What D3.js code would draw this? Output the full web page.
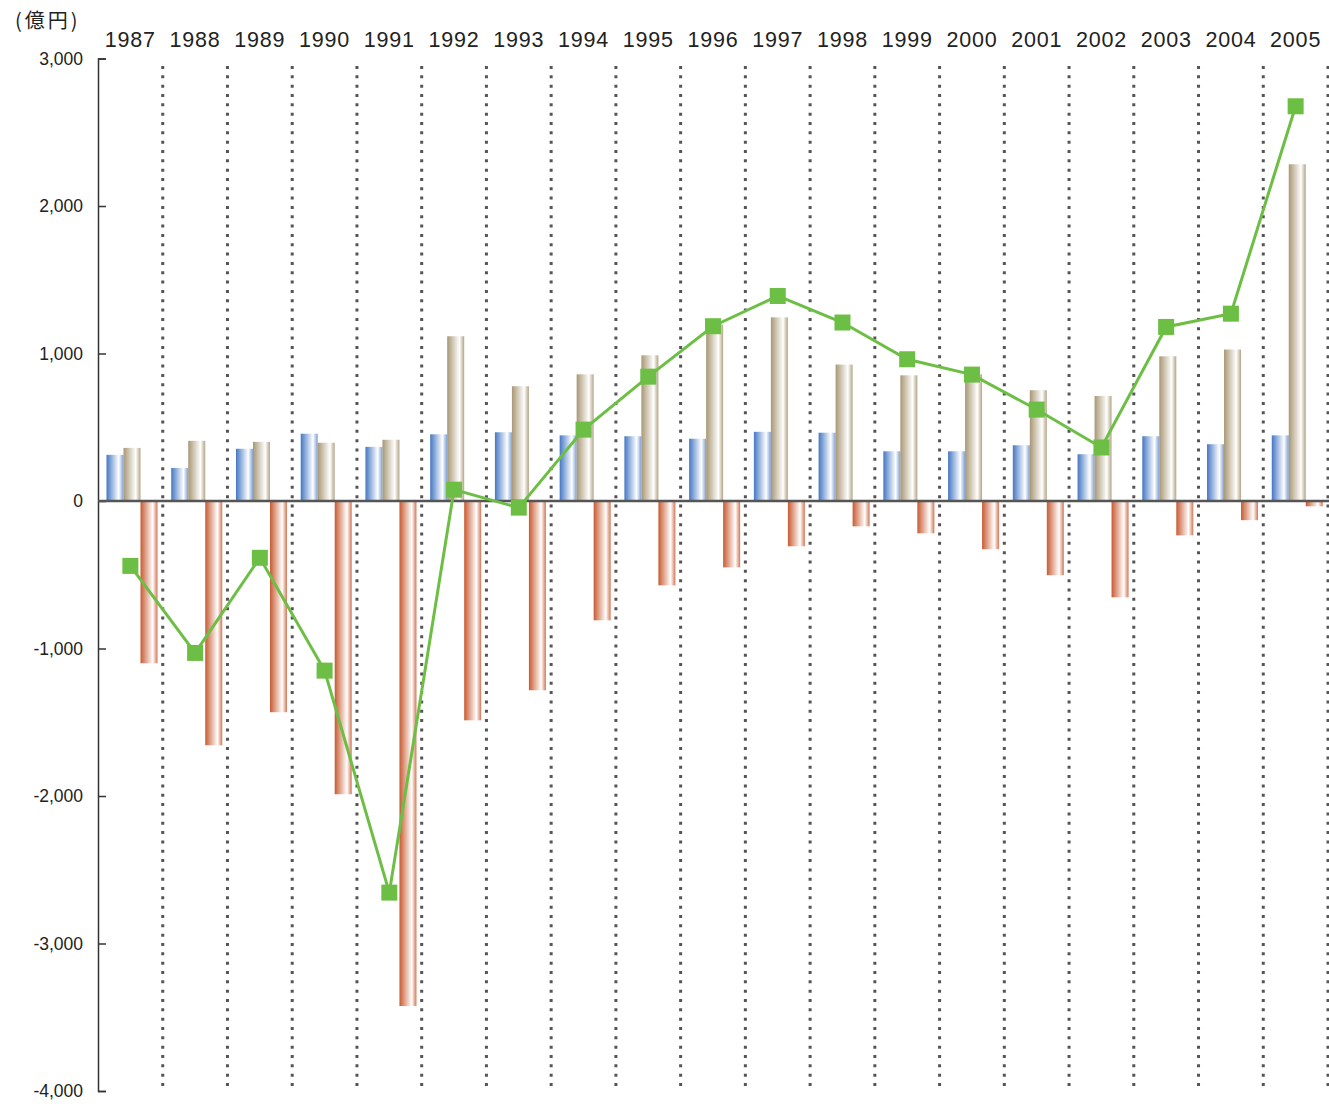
<!DOCTYPE html>
<html lang="ja">
<head>
  <meta charset="utf-8">
  <title>億円 1987-2005</title>
  <script src="https://d3js.org/d3.v7.min.js"></script>
  <style>
    body { margin: 0; background: #fff; }
    text { font-family: "Liberation Sans", Arial, Helvetica, sans-serif; fill: #222; }
  </style>
</head>
<body>
<svg></svg>
<script>
// data (億円)
const years = ['1987','1988','1989','1990','1991','1992','1993','1994','1995','1996',
               '1997','1998','1999','2000','2001','2002','2003','2004','2005']
const blueVals  = [313, 224, 354, 456, 367, 452, 466, 445, 439, 422, 469, 463, 337, 337, 378, 317, 439, 385, 445]
const beigeVals = [360, 408, 401, 395, 415, 1117, 778, 859, 988, 1197, 1245, 925, 852, 859, 751, 712, 981, 1027, 2283]
const orangeVals = [-1100, -1656, -1432, -1988, -3424, -1487, -1283, -809, -572, -450, -307, -172, -219, -327, -503, -653, -233, -130, -36]
const lineVals  = [-440, -1030, -385, -1150, -2655, 77, -45, 484, 843, 1185, 1390, 1210, 961, 857, 620, 363, 1180, 1270, 2676]
const yTicks = [3000, 2000, 1000, 0, -1000, -2000, -3000, -4000]

const W = 1329, H = 1104
const svg = d3.select('svg').attr('width', W).attr('height', H)

const x = d3.scaleBand().domain(years).range([98, 1328]).paddingInner(0).paddingOuter(0)
const y = d3.scaleLinear().domain([-4000, 3000]).range([1091, 58.5])

// gradients
const defs = svg.append('defs')
function grad(id, c0, c1) {
  const g = defs.append('linearGradient').attr('id', id)
    .attr('x1', '0%').attr('x2', '100%').attr('y1', '0%').attr('y2', '0%')
  g.append('stop').attr('offset', '0%').attr('stop-color', c0)
  g.append('stop').attr('offset', '72%').attr('stop-color', '#ffffff')
  g.append('stop').attr('offset', '100%').attr('stop-color', c1)
}
grad('gBlue', '#4477c4', '#7a9fd6')
grad('gBeige', '#a89774', '#b3a486')
grad('gOrange', '#c85a31', '#d37653')

// dotted separators
svg.append('g')
  .selectAll('line')
  .data(years)
  .join('line')
    .attr('x1', d => x(d) + x.bandwidth())
    .attr('x2', d => x(d) + x.bandwidth())
    .attr('y1', 66)
    .attr('y2', 1086)
    .attr('stroke', '#555')
    .attr('stroke-width', 3)
    .attr('stroke-dasharray', '3,6.33')

// y axis
const fmt = d3.format(',')
const yAxis = d3.axisLeft(y)
  .tickValues(yTicks)
  .tickSize(-8)
  .tickPadding(15)
  .tickFormat(d => fmt(d).replace('−', '-'))

const ax = svg.append('g')
  .attr('transform', 'translate(98,0)')
  .call(yAxis)
ax.select('.domain').attr('stroke', '#333').attr('stroke-width', 1.5)
ax.selectAll('.tick line').attr('stroke', '#333').attr('stroke-width', 1.5)
ax.selectAll('.tick text')
  .style('font-size', '17.5px')
  .style('font-family', '"Liberation Sans", Arial, sans-serif')
  .attr('fill', '#222')

// bars
const bw = 17
const off = 8.5
const bars = svg.append('g')

bars.selectAll('.blue')
  .data(blueVals)
  .join('rect')
    .attr('class', 'blue')
    .attr('x', (d, i) => x(years[i]) + off)
    .attr('y', d => y(Math.max(d, 0)))
    .attr('width', bw)
    .attr('height', d => Math.abs(y(d) - y(0)))
    .attr('fill', 'url(#gBlue)')

bars.selectAll('.beige')
  .data(beigeVals)
  .join('rect')
    .attr('class', 'beige')
    .attr('x', (d, i) => x(years[i]) + off + bw)
    .attr('y', d => y(Math.max(d, 0)))
    .attr('width', bw)
    .attr('height', d => Math.abs(y(d) - y(0)))
    .attr('fill', 'url(#gBeige)')

bars.selectAll('.orange')
  .data(orangeVals)
  .join('rect')
    .attr('class', 'orange')
    .attr('x', (d, i) => x(years[i]) + off + 2 * bw)
    .attr('y', d => y(Math.max(d, 0)))
    .attr('width', bw)
    .attr('height', d => Math.abs(y(d) - y(0)))
    .attr('fill', 'url(#gOrange)')

// zero line
svg.append('line')
  .attr('x1', 98).attr('x2', 1329)
  .attr('y1', y(0)).attr('y2', y(0))
  .attr('stroke', '#555')
  .attr('stroke-width', 2.5)

// green line + square markers
const cx = (d, i) => x(years[i]) + x.bandwidth() / 2
svg.append('path')
  .datum(lineVals)
  .attr('fill', 'none')
  .attr('stroke', '#6cbf44')
  .attr('stroke-width', 3)
  .attr('d', d3.line().x(cx).y(d => y(d)))

const ms = 16
svg.append('g')
  .selectAll('rect')
  .data(lineVals)
  .join('rect')
    .attr('x', (d, i) => cx(d, i) - ms / 2)
    .attr('y', d => y(d) - ms / 2)
    .attr('width', ms)
    .attr('height', ms)
    .attr('fill', '#6cbf44')

// year labels
svg.append('g')
  .selectAll('text')
  .data(years)
  .join('text')
    .attr('x', d => x(d) + x.bandwidth() / 2)
    .attr('y', 47)
    .attr('text-anchor', 'middle')
    .style('font-size', '21.5px')
    .style('letter-spacing', '0.8px')
    .text(d => d)

// unit
svg.append('text')
  .attr('x', 15)
  .attr('y', 28)
  .style('font-family', '"Noto Sans CJK JP", sans-serif')
  .style('font-size', '20px')
  .style('letter-spacing', '3px')
  .attr('fill', '#333')
  .text('(億円)')
</script>
</body>
</html>
